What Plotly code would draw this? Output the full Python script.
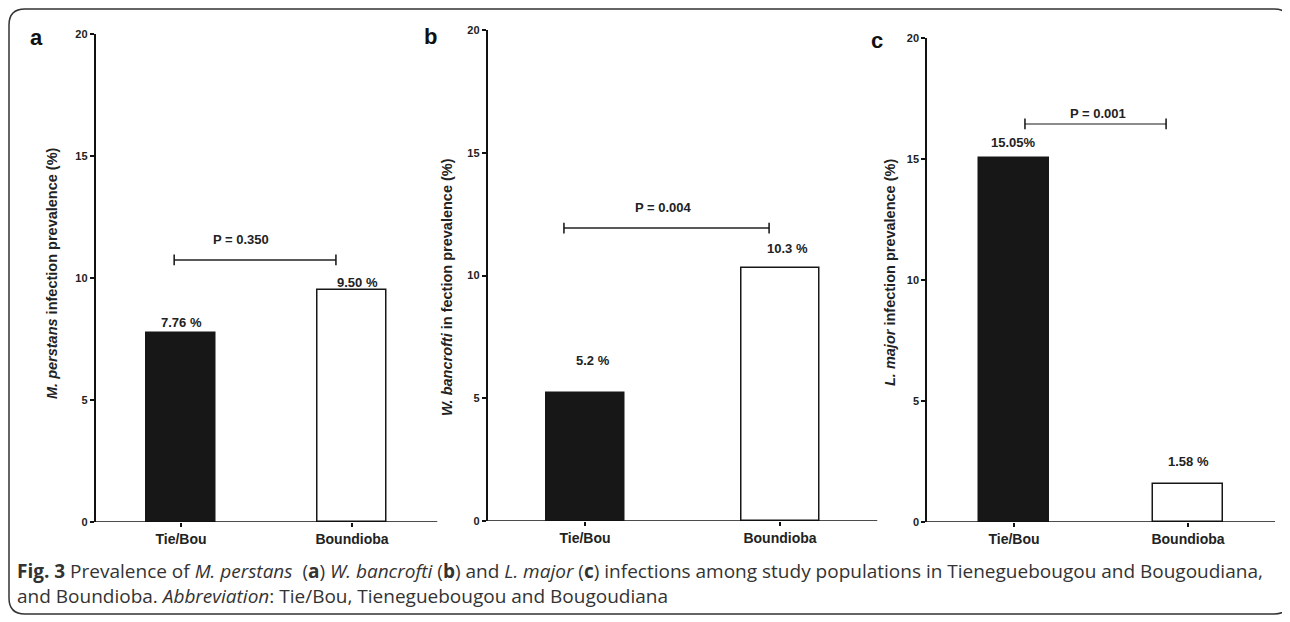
import plotly.graph_objects as go

# ---------------- data ----------------
categories = ["Tie/Bou", "Boundioba"]
perstans = [7.76, 9.50]
bancrofti = [5.2, 10.3]
major = [15.05, 1.58]
labels_a = ["7.76 %", "9.50 %"]
labels_b = ["5.2 %", "10.3 %"]
labels_c = ["15.05%", "1.58 %"]
p_values = ["P = 0.350", "P = 0.004", "P = 0.001"]
p_heights = [10.74, 11.93, 16.45]
y_ticks = [0, 5, 10, 15, 20]
panel_letters = ["a", "b", "c"]
y_titles = [
    "<i>M. perstans</i> infection prevalence (%)",
    "<i>W. bancrofti</i> in fection prevalence (%)",
    "<i>L. major</i> infection prevalence (%)",
]
caption_1 = ("<b>Fig. 3</b> Prevalence of <i>M. perstans</i>&nbsp; (<b>a</b>) <i>W. bancrofti</i> (<b>b</b>) "
             "and <i>L. major</i> (<b>c</b>) infections among study populations in Tieneguebougou and Bougoudiana,")
caption_2 = "and Boundioba. <i>Abbreviation</i>: Tie/Bou, Tieneguebougou and Bougoudiana"

W, H = 1290, 622
OFF = 8  # page body margin compensation
FONT = "Liberation Sans, Arial, sans-serif"
X_RANGE = [-0.5, 1.5]


def px(x):
    return (x - OFF) / W


def py(y):
    return 1 - (y - OFF) / H


# ---------------- layout/styling per panel (pixels) ----------------
panels = [
    dict(values=perstans, labels=labels_a, x0=95.5, x1=437.5, y0=522, y20=34,
         lab_dx=[0.0, 0.03], lab_dy=[0.42, 0.3],
         br=(-0.04, 0.906), ptx=0.35, pdy=0.82, brcol="#222",
         letter_xy=(36, 38), title_xy=(52, 273)),
    dict(values=bancrofti, labels=labels_b, x0=487.5, x1=877.5, y0=521, y20=30,
         lab_dx=[0.04, 0.036], lab_dy=[1.32, 0.8],
         br=(-0.108, 0.944), ptx=0.40, pdy=0.82, brcol="#222",
         letter_xy=(430, 37), title_xy=(447, 287)),
    dict(values=major, labels=labels_c, x0=927, x1=1275, y0=522, y20=38,
         lab_dx=[0.0, 0.0], lab_dy=[0.62, 0.9],
         br=(0.063, 0.874), ptx=0.483, pdy=0.42, brcol="#666",
         letter_xy=(877, 40), title_xy=(890, 272)),
]

fig = go.Figure()
annotations = []
shapes = []

for i, p in enumerate(panels):
    n = "" if i == 0 else str(i + 1)
    xa, ya = "x" + n, "y" + n
    fig.add_trace(go.Bar(
        x=[0, 1], y=p["values"], xaxis=xa, yaxis=ya, width=0.4,
        marker=dict(color=["#171717", "#ffffff"], line=dict(color="#171717", width=1.5)),
        showlegend=False, hoverinfo="skip",
    ))
    axis_common = dict(linecolor="#111", linewidth=1.5, ticks="outside",
                       ticklen=4, tickwidth=1.5, tickcolor="#111", showgrid=False,
                       zeroline=False, automargin=False)
    fig.layout["xaxis" + n] = dict(
        axis_common, showline=False, domain=[px(p["x0"]), px(p["x1"])], range=X_RANGE,
        tickmode="array", tickvals=[0, 1], ticktext=categories, anchor=ya,
        tickfont=dict(family=FONT, size=14, color="#222", weight="bold"),
    )
    fig.layout["yaxis" + n] = dict(
        axis_common, showline=True, domain=[py(p["y0"]), py(p["y20"])], range=[0, 20],
        tickmode="array", tickvals=y_ticks, anchor=xa,
        tickfont=dict(family=FONT, size=11, color="#222", weight="bold"),
    )
    # x axis baseline drawn over the bar outlines
    shapes.append(dict(type="line", xref=xa, yref=ya, x0=X_RANGE[0], x1=X_RANGE[1], y0=0, y1=0,
                       line=dict(color="#111", width=1.5), layer="above"))
    # value labels
    for j in range(2):
        annotations.append(dict(
            x=j + p["lab_dx"][j], y=p["values"][j] + p["lab_dy"][j], xref=xa, yref=ya,
            text=p["labels"][j], showarrow=False, yanchor="middle",
            font=dict(family=FONT, size=13, color="#222", weight="bold"),
        ))
    # significance bracket
    b0, b1 = p["br"]
    hgt = p_heights[i]
    cap = 0.22
    shapes.append(dict(type="line", xref=xa, yref=ya, x0=b0, x1=b1, y0=hgt, y1=hgt,
                       line=dict(color=p["brcol"], width=1.5)))
    for bx in (b0, b1):
        shapes.append(dict(type="line", xref=xa, yref=ya, x0=bx, x1=bx, y0=hgt - cap, y1=hgt + cap,
                           line=dict(color="#111", width=1.5)))
    annotations.append(dict(
        x=p["ptx"], y=hgt + p["pdy"], xref=xa, yref=ya, text=p_values[i],
        showarrow=False, yanchor="middle",
        font=dict(family=FONT, size=13, color="#222", weight="bold"),
    ))
    # panel letter
    lx, ly = p["letter_xy"]
    annotations.append(dict(
        x=px(lx), y=py(ly), xref="paper", yref="paper", text="<b>" + panel_letters[i] + "</b>",
        showarrow=False, xanchor="center", yanchor="middle",
        font=dict(family=FONT, size=22, color="#111"),
    ))
    # y title
    tx, ty = p["title_xy"]
    annotations.append(dict(
        x=px(tx), y=py(ty), xref="paper", yref="paper", text="<b>" + y_titles[i] + "</b>",
        showarrow=False, textangle=-90, xanchor="center", yanchor="middle",
        font=dict(family=FONT, size=14.5, color="#222"),
    ))

# caption
for k, (txt, yy) in enumerate([(caption_1, 571), (caption_2, 596)]):
    annotations.append(dict(
        x=px(15), y=py(yy), xref="paper", yref="paper", text=txt, showarrow=False,
        xanchor="left", yanchor="middle", align="left",
        font=dict(family="Open Sans, sans-serif", size=19, color="#333"),
    ))

# rounded border
L, T, R, B, r = 9, 9, 1290, 614, 16
rx, ry = r / W, r / H
path = (f"M {px(L)},{py(T) - ry} Q {px(L)},{py(T)} {px(L) + rx},{py(T)} "
        f"L {px(R) - rx},{py(T)} Q {px(R)},{py(T)} {px(R)},{py(T) - ry} "
        f"L {px(R)},{py(B) + ry} Q {px(R)},{py(B)} {px(R) - rx},{py(B)} "
        f"L {px(L) + rx},{py(B)} Q {px(L)},{py(B)} {px(L)},{py(B) + ry} Z")
shapes.append(dict(type="path", xref="paper", yref="paper", path=path,
                   line=dict(color="#333", width=1.5), layer="below"))

fig.update_layout(
    width=W, height=H, autosize=False,
    margin=dict(l=0, r=0, t=0, b=0, pad=0),
    paper_bgcolor="white", plot_bgcolor="rgba(0,0,0,0)",
    annotations=annotations, shapes=shapes, bargap=0,
    font=dict(family=FONT),
)

fig.write_html("out.html")
